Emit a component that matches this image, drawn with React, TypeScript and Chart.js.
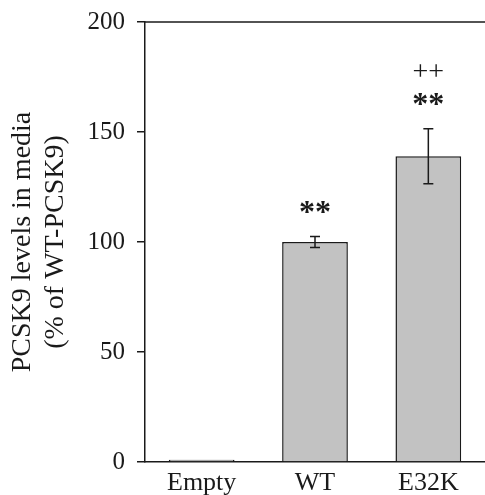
import React, { useEffect, useRef } from 'react';
import { Chart, registerables } from 'chart.js';

Chart.register(...registerables);

const categories = ['Empty', 'WT', 'E32K'];
const values = [1.0, 100, 139];
const errors = [0, 2.5, 12.5];
const starMarks = ['', '**', '**'];
const plusMarks = ['', '', '++'];
const yTickValues = [0, 50, 100, 150, 200];
const yTitleLines = ['PCSK9 levels in media', '(% of WT-PCSK9)'];

const FONT = "'Liberation Serif', 'Times New Roman', serif";
const INK = '#1a1a1a';
const BAR_FILL = '#c2c2c2';

const frameAndErrorPlugin = {
  id: 'frameAndErrors',
  afterDatasetsDraw(chart: any) {
    const { ctx, chartArea } = chart;
    const y = chart.scales.y;
    const meta = chart.getDatasetMeta(0);
    ctx.save();
    // top frame line
    ctx.strokeStyle = INK;
    ctx.lineWidth = 1.5;
    ctx.beginPath();
    ctx.moveTo(chartArea.left, chartArea.top);
    ctx.lineTo(chartArea.right, chartArea.top);
    ctx.stroke();
    // error bars
    meta.data.forEach((bar: any, i: number) => {
      const e = errors[i];
      if (!e) return;
      const cx = bar.x;
      const top = y.getPixelForValue(values[i] + e);
      const bot = y.getPixelForValue(values[i] - e);
      const cap = 5;
      ctx.beginPath();
      ctx.moveTo(cx, top);
      ctx.lineTo(cx, bot);
      ctx.moveTo(cx - cap, top);
      ctx.lineTo(cx + cap, top);
      ctx.moveTo(cx - cap, bot);
      ctx.lineTo(cx + cap, bot);
      ctx.stroke();
    });
    // significance marks
    ctx.fillStyle = INK;
    ctx.textAlign = 'center';
    ctx.textBaseline = 'alphabetic';
    meta.data.forEach((bar: any, i: number) => {
      const topPx = y.getPixelForValue(values[i] + errors[i]);
      if (starMarks[i]) {
        ctx.font = `bold 32px ${FONT}`;
        ctx.fillText(starMarks[i], bar.x, topPx - 15);
      }
      if (plusMarks[i]) {
        ctx.font = `28px ${FONT}`;
        ctx.fillText(plusMarks[i], bar.x, topPx - 49);
      }
    });
    ctx.restore();
  },
};

export default function App() {
  const canvasRef = useRef<HTMLCanvasElement | null>(null);

  useEffect(() => {
    if (!canvasRef.current) return;
    const chart = new Chart(canvasRef.current, {
      type: 'bar',
      data: {
        labels: categories,
        datasets: [
          {
            data: values,
            backgroundColor: BAR_FILL,
            borderColor: INK,
            borderWidth: 1.5,
            categoryPercentage: 1,
            barPercentage: 0.58,
          },
        ],
      },
      options: {
        responsive: false,
        animation: false,
        devicePixelRatio: 1,
        layout: { padding: { top: 22, left: 0, right: 0, bottom: 0 } },
        plugins: {
          legend: { display: false },
          tooltip: { enabled: false },
          title: { display: false },
        },
        scales: {
          x: {
            type: 'category',
            grid: { display: false, drawTicks: false },
            border: { display: true, color: INK, width: 1.5 },
            ticks: {
              color: INK,
              font: { family: FONT, size: 26 },
              padding: 6,
            },
            afterFit(scale: any) {
              scale.height = 33;
              scale.paddingLeft = 0;
              scale.paddingRight = 0;
            },
          },
          y: {
            min: 0,
            max: 200,
            afterBuildTicks(scale: any) {
              scale.ticks = yTickValues.map((v) => ({ value: v }));
            },
            grid: {
              display: true,
              drawOnChartArea: false,
              drawTicks: true,
              tickLength: 8,
              color: INK,
              lineWidth: 1.5,
            },
            border: { display: true, color: INK, width: 1.5 },
            ticks: {
              color: INK,
              font: { family: FONT, size: 25 },
              padding: 12,
            },
            title: {
              display: true,
              text: yTitleLines,
              color: INK,
              font: { family: FONT, size: 28, lineHeight: 1.15 },
              padding: { top: 7, bottom: 0 },
            },
            afterFit(scale: any) {
              scale.width = 145;
              scale.paddingTop = 0;
              scale.paddingBottom = 0;
            },
          },
        },
      },
      plugins: [frameAndErrorPlugin],
    });
    return () => chart.destroy();
  }, []);

  return (
    <div style={{ position: 'absolute', left: 0, top: 0, width: 485, height: 495, background: '#fff' }}>
      <canvas ref={canvasRef} width={485} height={495} style={{ display: 'block' }} />
    </div>
  );
}
